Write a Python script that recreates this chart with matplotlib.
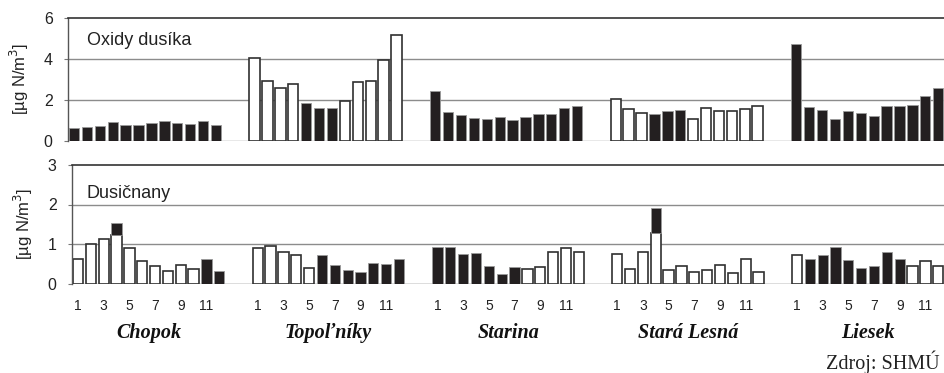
import matplotlib
matplotlib.use("Agg")
import matplotlib.pyplot as plt
import numpy as np

plt.rcParams["font.family"] = ["Liberation Sans", "DejaVu Sans"]

stations = ["Chopok", "Topoľníky", "Starina", "Stará Lesná", "Liesek"]
months = list(range(1, 13))
tick_months = [1, 3, 5, 7, 9, 11]

# Oxidy dusíka (top panel); 1 = black bar, 0 = white bar
nox_chopok = [0.65, 0.70, 0.75, 0.94, 0.76, 0.80, 0.86, 0.99, 0.89, 0.85, 0.96, 0.80]
nox_topolniky = [4.03, 2.93, 2.57, 2.78, 1.84, 1.63, 1.63, 1.95, 2.88, 2.93, 3.97, 5.17]
nox_starina = [2.46, 1.41, 1.28, 1.12, 1.09, 1.19, 1.01, 1.15, 1.30, 1.33, 1.59, 1.69]
nox_stara_lesna = [2.05, 1.56, 1.35, 1.33, 1.48, 1.53, 1.07, 1.59, 1.46, 1.46, 1.56, 1.69]
nox_liesek = [4.72, 1.67, 1.53, 1.09, 1.48, 1.38, 1.24, 1.69, 1.72, 1.77, 2.18, 2.60]

nox_black_chopok = [1] * 12
nox_black_topolniky = [0, 0, 0, 0, 1, 1, 1, 0, 0, 0, 0, 0]
nox_black_starina = [1] * 12
nox_black_stara_lesna = [0, 0, 0, 1, 1, 1, 0, 0, 0, 0, 0, 0]
nox_black_liesek = [1] * 12

# Dusičnany (bottom panel): white part, black part (stacked)
no3_white_chopok = [0.62, 1.00, 1.12, 1.23, 0.91, 0.57, 0.45, 0.31, 0.46, 0.36, 0.00, 0.00]
no3_black_chopok = [0.00, 0.00, 0.00, 0.30, 0.00, 0.00, 0.00, 0.00, 0.00, 0.00, 0.62, 0.31]
no3_white_topolniky = [0.91, 0.94, 0.79, 0.72, 0.38, 0.00, 0.00, 0.00, 0.00, 0.00, 0.00, 0.00]
no3_black_topolniky = [0.00, 0.00, 0.00, 0.00, 0.00, 0.72, 0.48, 0.35, 0.29, 0.51, 0.49, 0.62]
no3_white_starina = [0.00, 0.00, 0.00, 0.00, 0.00, 0.00, 0.00, 0.37, 0.41, 0.79, 0.89, 0.79]
no3_black_starina = [0.92, 0.92, 0.74, 0.77, 0.45, 0.24, 0.42, 0.00, 0.00, 0.00, 0.00, 0.00]
no3_white_stara_lesna = [0.74, 0.37, 0.80, 1.28, 0.33, 0.44, 0.28, 0.35, 0.47, 0.26, 0.63, 0.29]
no3_black_stara_lesna = [0.00, 0.00, 0.00, 0.63, 0.00, 0.00, 0.00, 0.00, 0.00, 0.00, 0.00, 0.00]
no3_white_liesek = [0.71, 0.00, 0.00, 0.00, 0.00, 0.00, 0.00, 0.00, 0.00, 0.45, 0.58, 0.45]
no3_black_liesek = [0.00, 0.63, 0.72, 0.92, 0.60, 0.39, 0.44, 0.80, 0.62, 0.00, 0.00, 0.00]

nox = [nox_chopok, nox_topolniky, nox_starina, nox_stara_lesna, nox_liesek]
nox_black = [nox_black_chopok, nox_black_topolniky, nox_black_starina,
             nox_black_stara_lesna, nox_black_liesek]
no3_white = [no3_white_chopok, no3_white_topolniky, no3_white_starina,
             no3_white_stara_lesna, no3_white_liesek]
no3_black = [no3_black_chopok, no3_black_topolniky, no3_black_starina,
             no3_black_stara_lesna, no3_black_liesek]

BLACK = "#231f20"
GRID = "#8c8c8c"
SLOTS = 14
W = 0.8

fig = plt.figure(figsize=(9.44, 3.73), dpi=100)
FW, FH = 944.0, 373.0
ax1 = fig.add_axes([68 / FW, 1 - 141 / FH, (944 - 68) / FW, (141 - 18) / FH])
ax2 = fig.add_axes([72 / FW, 1 - 283.5 / FH, (944 - 72) / FW, (283.5 - 165) / FH])

def x_of(s):
    return np.arange(12) + s * SLOTS

for ax in (ax1, ax2):
    ax.set_xlim(-0.47, 67.45)
    for sp in ("right", "bottom"):
        ax.spines[sp].set_visible(False)
    ax.spines["left"].set_color("#555555")
    ax.spines["left"].set_linewidth(1.0)
    ax.spines["top"].set_color("#333333")
    ax.spines["top"].set_linewidth(1.2)
    ax.tick_params(axis="y", length=3, width=0.8, color="#777777",
                   labelsize=11.5, pad=8, labelcolor="#222222")
    ax.set_axisbelow(True)

# top panel
ax1.set_ylim(0, 6)
ax1.set_yticks([0, 2, 4, 6])
for yv in (2, 4):
    ax1.axhline(yv, color=GRID, lw=1.0, zorder=0)
ax1.axhline(0, color=GRID, lw=1.0, zorder=0.5)
for s in range(5):
    xs = x_of(s)
    for i in range(12):
        if nox_black[s][i]:
            ax1.bar(xs[i], nox[s][i], width=W, color=BLACK, edgecolor="#9a9a9a",
                    linewidth=0.6, zorder=2)
        else:
            ax1.bar(xs[i], nox[s][i], width=W, color="white", edgecolor="#303030",
                    linewidth=1.2, zorder=2)
ax1.set_xticks([])
ax1.text(0.022, 0.82, "Oxidy dusíka", transform=ax1.transAxes, fontsize=13,
         color="#222222", va="center", ha="left")
ax1.set_ylabel("[µg N/m$^3$]", fontsize=12, color="#222222", labelpad=9)

# bottom panel
ax2.set_ylim(0, 3)
ax2.set_yticks([0, 1, 2, 3])
for yv in (1, 2):
    ax2.axhline(yv, color=GRID, lw=1.0, zorder=0)
ax2.axhline(0, color="#555555", lw=1.0, zorder=0.5)
for s in range(5):
    xs = x_of(s)
    wv = np.array(no3_white[s])
    bv = np.array(no3_black[s])
    mw = wv > 0
    ax2.bar(xs[mw], wv[mw], width=W, color="white", edgecolor="#303030",
            linewidth=1.2, zorder=2)
    mb = bv > 0
    ax2.bar(xs[mb], bv[mb], bottom=wv[mb], width=W, color=BLACK,
            edgecolor="#9a9a9a", linewidth=0.6, zorder=3)

tick_pos = []
tick_lab = []
for s in range(5):
    for m in tick_months:
        tick_pos.append(s * SLOTS + m - 1)
        tick_lab.append(str(m))
ax2.set_xticks(tick_pos)
ax2.set_xticklabels(tick_lab, fontsize=10, color="#222222")
ax2.tick_params(axis="x", length=0, pad=11)
ax2.text(0.017, 0.76, "Dusičnany", transform=ax2.transAxes, fontsize=13,
         color="#222222", va="center", ha="left")
ax2.set_ylabel("[µg N/m$^3$]", fontsize=12, color="#222222", labelpad=9)

for s, name in enumerate(stations):
    xc = s * SLOTS + 5.5
    xd = ax2.transData.transform((xc, 0))[0]
    fig.text(xd / FW, 1 - 333 / FH, name, family=["Liberation Serif", "DejaVu Serif"],
             fontsize=14.5, fontweight="bold", fontstyle="italic",
             ha="center", va="center", color="#111111")

fig.text(940 / FW, 1 - 362 / FH, "Zdroj: SHMÚ", family=["Liberation Serif", "DejaVu Serif"],
         fontsize=14.5, ha="right", va="center", color="#222222")

fig.savefig("out.png", dpi=100)
